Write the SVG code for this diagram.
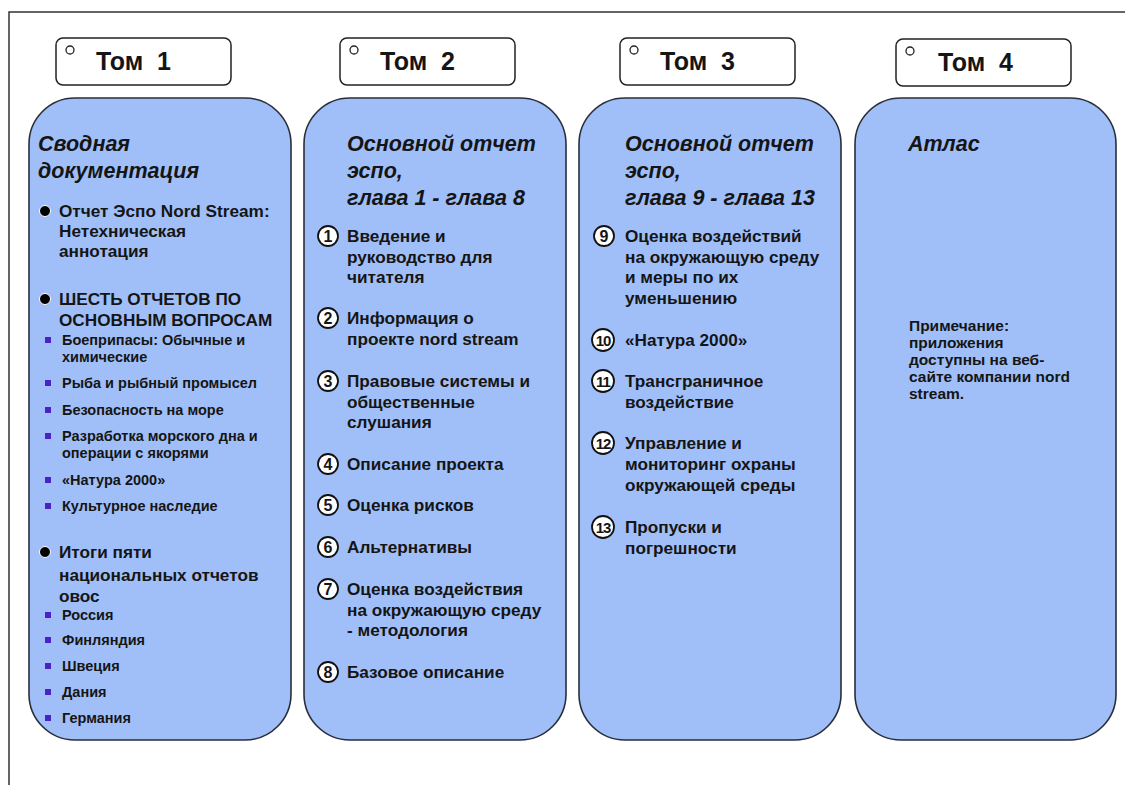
<svg xmlns="http://www.w3.org/2000/svg" width="1125" height="785" viewBox="0 0 1125 785">
<defs>
<style>
text{font-family:"Liberation Sans",Arial,sans-serif;fill:#151515;font-weight:bold}
.hdr{font-size:25px;white-space:pre}
.ttl{font-size:21.5px;font-style:italic}
.t{font-size:17.2px}
.s{font-size:14.5px}
.nt{font-size:15.5px}
.n{font-size:16px;text-anchor:middle}
.n2{font-size:15px;text-anchor:middle;letter-spacing:-1px}
.col{fill:#a0bff8;stroke:#2a2e3a;stroke-width:1.6}
.hbox{fill:#fff;stroke:#222;stroke-width:1.5}
.hc{fill:#fff;stroke:#222;stroke-width:1.3}
.nc{fill:#fff;stroke:#111;stroke-width:1.8}
.dot{fill:#000;stroke:#fff;stroke-width:1}
.sq{fill:#4a22c8}
</style>
</defs>
<rect width="1125" height="785" fill="#fff"/>
<g id="frame" fill="none" stroke="#333" stroke-width="1.5">
<path d="M1125 12 H9 V785"/>
</g>
<g id="connectors"></g>

<g id="vol1-header">
<rect class="hbox" x="56" y="38" width="175" height="47" rx="7"/>
<circle class="hc" cx="70" cy="50" r="4"/>
<text class="hdr" x="96" y="70" xml:space="preserve">Том  1</text>
</g>
<g id="vol2-header">
<rect class="hbox" x="340" y="38" width="175" height="47" rx="7"/>
<circle class="hc" cx="354" cy="50" r="4"/>
<text class="hdr" x="380" y="70" xml:space="preserve">Том  2</text>
</g>
<g id="vol3-header">
<rect class="hbox" x="620" y="38" width="175" height="47" rx="7"/>
<circle class="hc" cx="634" cy="50" r="4"/>
<text class="hdr" x="660" y="70" xml:space="preserve">Том  3</text>
</g>
<g id="vol4-header">
<rect class="hbox" x="896" y="39" width="175" height="47" rx="7"/>
<circle class="hc" cx="910" cy="51" r="4"/>
<text class="hdr" x="938" y="71" xml:space="preserve">Том  4</text>
</g>

<g id="vol1">
<rect class="col" x="29" y="98" width="262" height="642" rx="46"/>
<text class="ttl" x="38" y="151">Сводная</text>
<text class="ttl" x="38" y="178">документация</text>
<circle class="dot" cx="45" cy="211" r="5.5"/>
<text class="t" x="59" y="217">Отчет Эспо Nord Stream:</text>
<text class="t" x="59" y="237">Нетехническая</text>
<text class="t" x="59" y="257">аннотация</text>
<circle class="dot" cx="45" cy="299" r="5.5"/>
<text class="t" x="59" y="305">ШЕСТЬ ОТЧЕТОВ ПО</text>
<text class="t" x="59" y="326">ОСНОВНЫМ ВОПРОСАМ</text>
<rect class="sq" x="45" y="337" width="6" height="6"/>
<text class="s" x="62" y="345">Боеприпасы: Обычные и</text>
<text class="s" x="62" y="362">химические</text>
<rect class="sq" x="45" y="380" width="6" height="6"/>
<text class="s" x="62" y="388">Рыба и рыбный промысел</text>
<rect class="sq" x="45" y="407" width="6" height="6"/>
<text class="s" x="62" y="415">Безопасность на море</text>
<rect class="sq" x="45" y="433" width="6" height="6"/>
<text class="s" x="62" y="441">Разработка морского дна и</text>
<text class="s" x="62" y="458">операции с якорями</text>
<rect class="sq" x="45" y="477" width="6" height="6"/>
<text class="s" x="62" y="485">«Натура 2000»</text>
<rect class="sq" x="45" y="503" width="6" height="6"/>
<text class="s" x="62" y="511">Культурное наследие</text>
<circle class="dot" cx="45" cy="552" r="5.5"/>
<text class="t" x="59" y="558">Итоги пяти</text>
<text class="t" x="59" y="581">национальных отчетов</text>
<text class="t" x="59" y="602">овос</text>
<rect class="sq" x="45" y="612" width="6" height="6"/>
<text class="s" x="62" y="620">Россия</text>
<rect class="sq" x="45" y="637" width="6" height="6"/>
<text class="s" x="62" y="645">Финляндия</text>
<rect class="sq" x="45" y="663" width="6" height="6"/>
<text class="s" x="62" y="671">Швеция</text>
<rect class="sq" x="45" y="689" width="6" height="6"/>
<text class="s" x="62" y="697">Дания</text>
<rect class="sq" x="45" y="715" width="6" height="6"/>
<text class="s" x="62" y="723">Германия</text>
</g>

<g id="vol2">
<rect class="col" x="304" y="98" width="262" height="642" rx="46"/>
<text class="ttl" x="347" y="151">Основной отчет</text>
<text class="ttl" x="347" y="178">эспо,</text>
<text class="ttl" x="347" y="205">глава 1 - глава 8</text>
<circle class="nc" cx="328" cy="236" r="10"/><text class="n" x="328" y="242">1</text>
<text class="t" x="347" y="242">Введение и</text>
<text class="t" x="347" y="263">руководство для</text>
<text class="t" x="347" y="283">читателя</text>
<circle class="nc" cx="328" cy="318" r="10"/><text class="n" x="328" y="324">2</text>
<text class="t" x="347" y="324">Информация о</text>
<text class="t" x="347" y="345">проекте nord stream</text>
<circle class="nc" cx="328" cy="381" r="10"/><text class="n" x="328" y="387">3</text>
<text class="t" x="347" y="387">Правовые системы и</text>
<text class="t" x="347" y="408">общественные</text>
<text class="t" x="347" y="428">слушания</text>
<circle class="nc" cx="328" cy="464" r="10"/><text class="n" x="328" y="470">4</text>
<text class="t" x="347" y="470">Описание проекта</text>
<circle class="nc" cx="328" cy="505" r="10"/><text class="n" x="328" y="511">5</text>
<text class="t" x="347" y="511">Оценка рисков</text>
<circle class="nc" cx="328" cy="547" r="10"/><text class="n" x="328" y="553">6</text>
<text class="t" x="347" y="553">Альтернативы</text>
<circle class="nc" cx="328" cy="589" r="10"/><text class="n" x="328" y="595">7</text>
<text class="t" x="347" y="595">Оценка воздействия</text>
<text class="t" x="347" y="616">на окружающую среду</text>
<text class="t" x="347" y="636">- методология</text>
<circle class="nc" cx="328" cy="672" r="10"/><text class="n" x="328" y="678">8</text>
<text class="t" x="347" y="678">Базовое описание</text>
</g>

<g id="vol3">
<rect class="col" x="579" y="98" width="262" height="642" rx="46"/>
<text class="ttl" x="625" y="151">Основной отчет</text>
<text class="ttl" x="625" y="178">эспо,</text>
<text class="ttl" x="625" y="205">глава 9 - глава 13</text>
<circle class="nc" cx="604" cy="236" r="10"/><text class="n" x="604" y="242">9</text>
<text class="t" x="625" y="242">Оценка воздействий</text>
<text class="t" x="625" y="263">на окружающую среду</text>
<text class="t" x="625" y="283">и меры по их</text>
<text class="t" x="625" y="304">уменьшению</text>
<circle class="nc" cx="603" cy="340" r="11"/><text class="n2" x="603" y="345.5">10</text>
<text class="t" x="625" y="346">«Натура 2000»</text>
<circle class="nc" cx="603" cy="381" r="11"/><text class="n2" x="603" y="386.5">11</text>
<text class="t" x="625" y="387">Трансграничное</text>
<text class="t" x="625" y="408">воздействие</text>
<circle class="nc" cx="603" cy="443" r="11"/><text class="n2" x="603" y="448.5">12</text>
<text class="t" x="625" y="449">Управление и</text>
<text class="t" x="625" y="470">мониторинг охраны</text>
<text class="t" x="625" y="491">окружающей среды</text>
<circle class="nc" cx="603" cy="527" r="11"/><text class="n2" x="603" y="532.5">13</text>
<text class="t" x="625" y="533">Пропуски и</text>
<text class="t" x="625" y="554">погрешности</text>
</g>

<g id="vol4">
<rect class="col" x="855" y="98" width="261" height="642" rx="46"/>
<text class="ttl" x="908" y="151">Атлас</text>
<text class="nt" x="909" y="331">Примечание:</text>
<text class="nt" x="909" y="348">приложения</text>
<text class="nt" x="909" y="365">доступны на веб-</text>
<text class="nt" x="909" y="382">сайте компании nord</text>
<text class="nt" x="909" y="399">stream.</text>
</g>
</svg>
